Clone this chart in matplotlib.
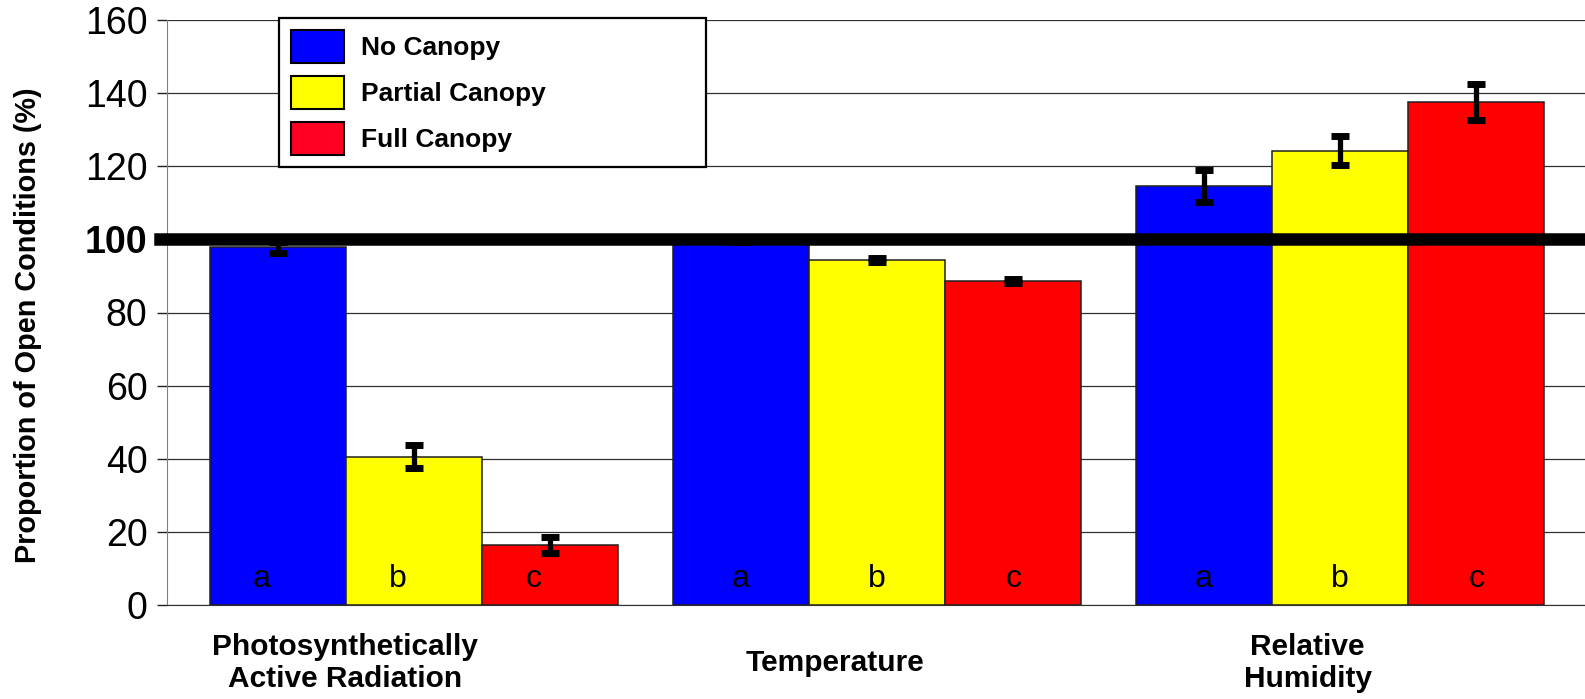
import numpy as np
import matplotlib
matplotlib.use("Agg")
import matplotlib.pyplot as plt
from matplotlib.patches import Patch

plt.rcParams['font.family'] = ['Liberation Sans', 'DejaVu Sans']

# data
categories = ["Photosynthetically\nActive Radiation", "Temperature", "Relative\nHumidity"]
treatments = ["No Canopy", "Partial Canopy", "Full Canopy"]
no_canopy = [97.8, 99.6, 114.7]
partial_canopy = [40.6, 94.4, 124.3]
full_canopy = [16.4, 88.6, 137.5]
no_canopy_err = [1.5, 0.4, 4.4]
partial_canopy_err = [3.1, 0.6, 4.0]
full_canopy_err = [2.2, 0.5, 4.9]
sig_letters = ["a", "b", "c"]
y_ticks = [0, 20, 40, 60, 80, 100, 120, 140, 160]

colors = ["#0000ff", "#ffff00", "#ff0000"]
legend_colors = ["#0000ff", "#ffff00", "#ff0022"]

fig = plt.figure(figsize=(15.85, 6.99), dpi=100)
ax = fig.add_axes([167 / 1585, 1 - 605 / 699, 1 - 167 / 1585, 585 / 699])

x = np.arange(len(categories))
width = 0.294
series = [no_canopy, partial_canopy, full_canopy]
errs = [no_canopy_err, partial_canopy_err, full_canopy_err]
letter_shift = [-0.035, 0, 0]

for i, (vals, err) in enumerate(zip(series, errs)):
    pos = x + (i - 1) * width
    ax.bar(pos, vals, width, color=colors[i], edgecolor="#202020", linewidth=1.1, zorder=2)
    ax.errorbar(pos, vals, yerr=err, fmt="none", ecolor="black", elinewidth=3.8,
                capsize=6.5, capthick=5, zorder=3)
    for p, sh in zip(pos, letter_shift):
        ax.text(p + sh, 5, sig_letters[i], ha="center", va="baseline", fontsize=23, zorder=4)

# reference line at 100 %
ax.axhline(100, xmin=-0.005, xmax=1, color="black", linewidth=9, zorder=5, clip_on=False)

ax.set_xlim(-0.5335, 2.529)
ax.set_ylim(0, 160)
ax.set_yticks(y_ticks)
ax.set_yticklabels([str(t) for t in y_ticks], fontsize=27)
for lab in ax.get_yticklabels():
    if lab.get_text() == "100":
        lab.set_fontweight("bold")
ax.tick_params(axis="y", length=7, width=1, pad=7, color="#202020")
ax.set_xticks([])

ax.yaxis.grid(True, color="#303030", linewidth=0.9, zorder=0)
ax.set_axisbelow(True)
for s in ["top", "right"]:
    ax.spines[s].set_visible(False)
ax.spines["left"].set_color("#808080")
ax.spines["bottom"].set_color("#303030")

fig.text(28 / 1585, 1 - 325 / 699, "Proportion of Open Conditions (%)", rotation=90,
         ha="center", va="center", fontsize=20.8, fontweight="bold")

label_shift = [-0.15, -0.09, -0.07]
for xi, cat, sh in zip(x, categories, label_shift):
    ax.text(xi + sh, -15.8, cat, ha="center", va="center", fontsize=21.5,
            fontweight="bold", linespacing=1.2)

handles = [Patch(facecolor=c, edgecolor="black", linewidth=1.5) for c in legend_colors]
top = 1 - 18 / 699
leg = fig.legend(handles, treatments, loc="upper left",
                 bbox_to_anchor=(279 / 1585, top - 0.1, (706 - 279) / 1585, 0.1),
                 mode="expand", fancybox=False, framealpha=1, edgecolor="black",
                 prop={"weight": "bold", "size": 19}, handlelength=2.0, handleheight=1.55,
                 handletextpad=0.65, borderpad=0.45, labelspacing=0.49, borderaxespad=0)
leg.get_frame().set_linewidth(1.6)

fig.savefig("out.png", dpi=100)
